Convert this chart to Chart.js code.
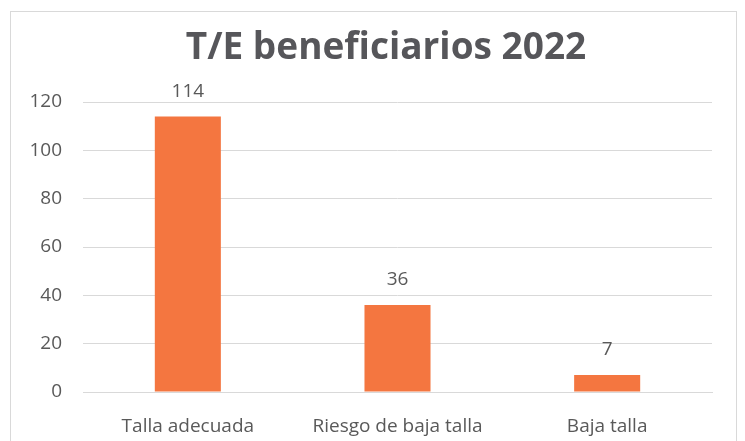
<!DOCTYPE html>
<html>
<head>
<meta charset="utf-8">
<script src="https://cdn.jsdelivr.net/npm/chart.js@4/dist/chart.umd.min.js"></script>
<style>
  html,body{margin:0;padding:0;background:#fff;overflow:hidden;}
  #frame{position:absolute;left:10px;top:11px;width:725px;height:440px;border:1px solid #d9d9d9;}
  #c{position:absolute;left:0;top:0;}
</style>
</head>
<body>
<div id="frame"></div>
<canvas id="c" width="745" height="441"></canvas>
<script>
// chart data
const categories = ['Talla adecuada', 'Riesgo de baja talla', 'Baja talla'];
const values = [114, 36, 7];
const titleText = 'T/E beneficiarios 2022';

const textColor = '#595959';
const barColor = '#F47640';

// title + value labels
const labelsPlugin = {
  id: 'labels',
  afterDatasetsDraw(chart){
    const ctx = chart.ctx;
    ctx.save();
    ctx.textAlign = 'center';
    ctx.fillStyle = '#56565a';
    ctx.textBaseline = 'alphabetic';
    ctx.font = 'bold 37px "Open Sans"';
    ctx.fillText(titleText, 386, 59);
    ctx.fillStyle = textColor;
    ctx.textBaseline = 'middle';
    ctx.font = '19px "Open Sans"';
    chart.getDatasetMeta(0).data.forEach((bar, i)=>{
      ctx.fillText(String(values[i]), bar.x, bar.y - 25);
    });
    ctx.restore();
  }
};

new Chart(document.getElementById('c'), {
  type: 'bar',
  data: {
    labels: categories,
    datasets: [{data: values, backgroundColor: barColor, categoryPercentage: 1, barPercentage: 0.315}]
  },
  options: {
    responsive: false,
    animation: false,
    layout: {padding: {left: 0, right: 33, top: 102, bottom: 0}},
    plugins: {legend: {display: false}, tooltip: {enabled: false}},
    scales: {
      x: {
        afterFit(s){ s.height = 49; },
        grid: {display: false},
        border: {color: '#d9d9d9'},
        ticks: {color: textColor, font: {family: 'Open Sans', size: 19}, padding: 15}
      },
      y: {
        min: 0, max: 120,
        afterFit(s){ s.width = 83; },
        grid: {color: '#d9d9d9', drawTicks: false},
        border: {display: false},
        ticks: {stepSize: 20, color: textColor, font: {family: 'Open Sans', size: 19}, padding: 21}
      }
    }
  },
  plugins: [labelsPlugin]
});
</script>
</body>
</html>
